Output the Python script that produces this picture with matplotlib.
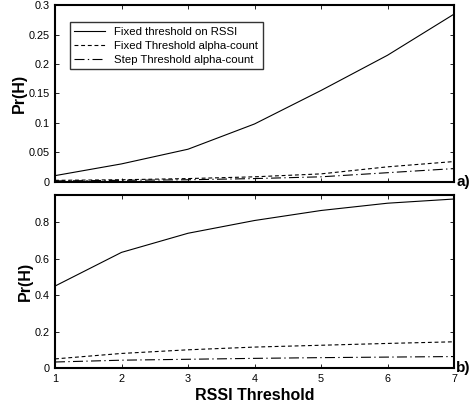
import matplotlib
matplotlib.use("Agg")
import matplotlib.pyplot as plt

plt.rcParams['font.family'] = ['Liberation Sans', 'DejaVu Sans']

# RSSI threshold values
thresholds = [1, 2, 3, 4, 5, 6, 7]

# panel a)
a_fixed_rssi = [0.010, 0.030, 0.055, 0.098, 0.155, 0.215, 0.285]
a_fixed_alpha = [0.002, 0.003, 0.005, 0.008, 0.013, 0.025, 0.034]
a_step_alpha = [0.001, 0.002, 0.003, 0.005, 0.008, 0.015, 0.022]

# panel b)
b_fixed_rssi = [0.45, 0.635, 0.74, 0.81, 0.865, 0.905, 0.928]
b_fixed_alpha = [0.05, 0.08, 0.10, 0.115, 0.125, 0.135, 0.144]
b_step_alpha = [0.033, 0.043, 0.048, 0.053, 0.057, 0.060, 0.063]

labels = ["Fixed threshold on RSSI",
          "Fixed Threshold alpha-count",
          "Step Threshold alpha-count"]

fig = plt.figure(figsize=(4.73, 4.09), dpi=100, facecolor='white')
ax1 = fig.add_axes([0.1163, 0.5562, 0.8436, 0.4308])
ax2 = fig.add_axes([0.1163, 0.1002, 0.8436, 0.4230])

styles = [dict(linestyle='-'),
          dict(linestyle=(0, (3.5, 2.5))),
          dict(linestyle=(0, (9, 3, 1.2, 3)))]


def draw(ax, series):
    for ys, lab, st in zip(series, labels, styles):
        ax.plot(thresholds, ys, color='black', linewidth=0.8, label=lab, **st)
    ax.set_xlim(1, 7)
    ax.set_xticks(thresholds)
    ax.tick_params(direction='in', top=True, right=True, labelsize=7.8,
                   length=3, width=0.6, pad=4)
    for sp in ax.spines.values():
        sp.set_linewidth(1.5)
    ax.set_ylabel("Pr(H)", fontsize=11.5, fontweight='bold', labelpad=1)


draw(ax1, [a_fixed_rssi, a_fixed_alpha, a_step_alpha])
ax1.set_ylim(0, 0.3)
ax1.set_yticks([0, 0.05, 0.1, 0.15, 0.2, 0.25, 0.3])
ax1.set_yticklabels(["0", "0.05", "0.1", "0.15", "0.2", "0.25", "0.3"])
ax1.tick_params(labelbottom=False)
leg = ax1.legend(loc='upper left', bbox_to_anchor=(0.037, 0.905), borderaxespad=0,
                 fontsize=8.2, frameon=True, fancybox=False, handlelength=2.7,
                 handletextpad=0.8, labelspacing=0.35, borderpad=0.4)
leg.get_frame().set_edgecolor('black')
leg.get_frame().set_linewidth(1.0)
ax1.text(1.005, 0.0, "a)", transform=ax1.transAxes, fontsize=11,
         fontweight='bold', ha='left', va='center')

draw(ax2, [b_fixed_rssi, b_fixed_alpha, b_step_alpha])
ax2.set_ylim(0, 0.95)
ax2.set_yticks([0, 0.2, 0.4, 0.6, 0.8])
ax2.set_yticklabels(["0", "0.2", "0.4", "0.6", "0.8"])
ax2.set_xlabel("RSSI Threshold", fontsize=11.5, fontweight='bold', labelpad=3)
ax2.text(1.005, 0.0, "b)", transform=ax2.transAxes, fontsize=11,
         fontweight='bold', ha='left', va='center')

fig.savefig("out.png", dpi=100)
